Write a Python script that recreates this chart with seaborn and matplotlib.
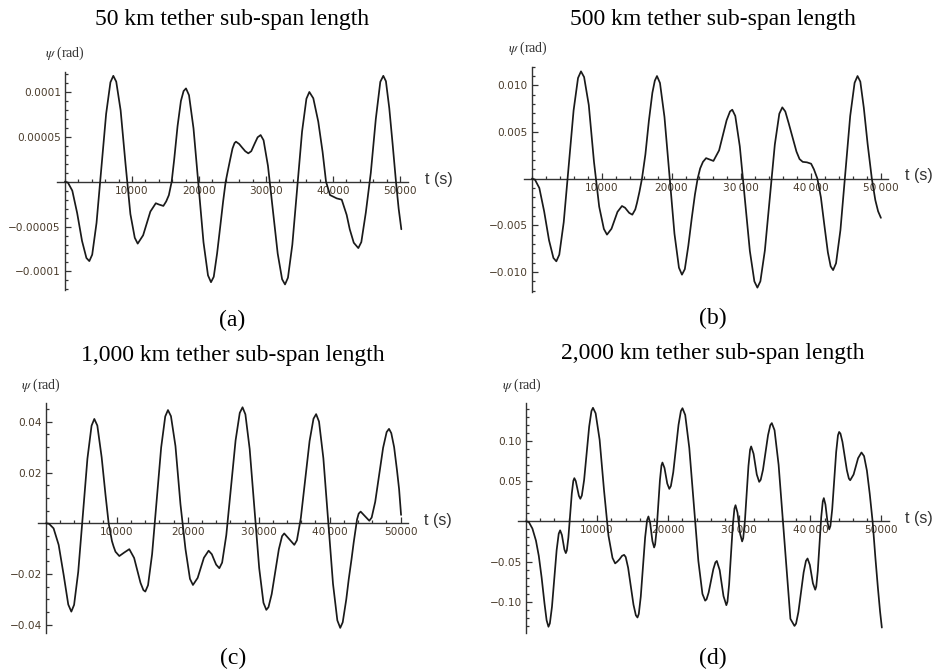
import matplotlib
matplotlib.use("Agg")
import matplotlib.pyplot as plt
import numpy as np
import pandas as pd
import seaborn as sns
from matplotlib.ticker import MultipleLocator, FixedLocator, FixedFormatter

# ---------------- data ----------------
# panel (a): 50 km, psi in units of 1e-4 rad
t_a = [0, 436, 1089, 1815, 2541, 3194, 3630, 4060, 4704, 5420, 6136, 6780, 7210, 7647, 8302, 9030,
       9758, 10413, 10850, 11660, 12200, 12740, 13550, 14050, 14680, 15100, 15500, 15920, 16300, 16800,
       17300, 17700, 18060, 18508, 19179, 19925, 20671, 21342, 21790, 22200, 22700, 23200, 23600, 23980,
       24300, 24630, 25000, 25300, 25520, 26000, 26440, 26900, 27360, 27800, 28280, 28750, 29200, 29637,
       30292, 31020, 31748, 32403, 32840, 33276, 33929, 34655, 35381, 36034, 36470, 37060, 37800, 38450,
       38960, 39560, 40560, 41300, 42040, 42500, 43100, 43780, 44228, 44899, 45645, 46391, 47062, 47510,
       47900, 48400, 48900, 49400, 49800, 50200]
psi_a = [0, -0.01, -0.10, -0.35, -0.66, -0.85, -0.885, -0.813, -0.46, 0.148, 0.755, 1.108, 1.18, 1.115,
         0.795, 0.20, -0.36, -0.625, -0.69, -0.597, -0.465, -0.333, -0.24, -0.255, -0.27, -0.22, -0.15,
         0.0, 0.25, 0.62, 0.90, 1.01, 1.04, 0.964, 0.595, -0.04, -0.675, -1.044, -1.12, -1.06, -0.80,
         -0.48, -0.22, 0.0, 0.12, 0.24, 0.37, 0.43, 0.446, 0.42, 0.38, 0.34, 0.316, 0.34, 0.42, 0.495,
         0.52, 0.462, 0.177, -0.313, -0.802, -1.087, -1.145, -1.070, -0.703, -0.073, 0.558, 0.925, 1.0,
         0.93, 0.67, 0.33, 0.0, -0.149, -0.186, -0.20, -0.37, -0.53, -0.68, -0.74, -0.673, -0.344, 0.10,
         0.70, 1.113, 1.18, 1.12, 0.82, 0.42, 0.0, -0.30, -0.53]
unit_a = 1e-4

# panel (b): 500 km, psi in units of 1e-3 rad
t_b = [0, 420, 1050, 1740, 2440, 3070, 3487, 3911, 4547, 5254, 5960, 6596, 7020, 7467, 8138, 8883, 9628,
       10299, 10746, 11391, 11820, 12250, 12895, 13339, 13636, 13932, 14376, 14800, 15045, 15400, 15760,
       16250, 16750, 17250, 17600, 17910, 18340, 18984, 19700, 20416, 21060, 21490, 21900, 22400, 22900,
       23350, 23736, 24100, 24500, 24950, 25470, 26000, 26810, 27350, 27890, 28376, 28700, 29132, 29780,
       30500, 31220, 31868, 32300, 32728, 33371, 34085, 34799, 35442, 35870, 36300, 36800, 37390, 37900,
       38340, 38800, 39400, 40000, 40400, 40900, 41400, 41900, 42400, 42800, 43150, 43570, 44200, 44900,
       45600, 46230, 46650, 47050, 47550, 48100, 48700, 49200, 49600, 50000]
psi_b = [0, -0.1, -1.0, -3.5, -6.6, -8.5, -8.86, -8.147, -4.666, 1.32, 7.306, 10.787, 11.5, 10.888, 7.895,
         1.8, -3.0, -5.388, -6.0, -5.368, -4.465, -3.56, -2.93, -3.12, -3.4, -3.67, -3.86, -3.3, -2.6,
         -1.4, 0.0, 2.6, 6.2, 9.2, 10.5, 11.0, 10.255, 6.614, 0.355, -5.904, -9.545, -10.29, -9.7, -7.2,
         -4.2, -1.7, 0.0, 1.1, 1.8, 2.2, 2.05, 1.9, 3.03, 4.645, 6.26, 7.2, 7.39, 6.72, 3.46, -2.145,
         -7.75, -11.01, -11.68, -11.0, -7.70, -2.02, 3.66, 6.96, 7.64, 7.2, 5.9, 4.29, 2.9, 2.1, 1.8,
         1.75, 1.6, 1.0, 0.0, -2.0, -5.0, -7.9, -9.4, -9.8, -9.07, -5.515, 0.6, 6.715, 10.27, 11.0,
         10.4, 7.6, 3.7, 0.0, -2.3, -3.5, -4.2]
unit_b = 1e-3

# panel (c): 1,000 km, psi in units of 1e-2 rad
t_c = [0, 430, 1070, 1786, 2500, 3140, 3572, 3961, 4545, 5194, 5842, 6426, 6815, 7240, 7850, 8400, 8836,
       9300, 9541, 9800, 10340, 11045, 11750, 12427, 12878, 13329, 13735, 14006, 14390, 14965, 15604,
       16243, 16818, 17202, 17625, 18260, 18965, 19670, 20305, 20727, 21390, 21830, 22273, 22936, 23390,
       23690, 24000, 24450, 24842, 25431, 26085, 26739, 27328, 27720, 28123, 28727, 29398, 30069, 30672,
       31075, 31378, 31833, 32338, 32843, 33297, 33600, 34310, 35020, 35390, 35944, 36560, 37176, 37730,
       38100, 38508, 39120, 39800, 40480, 41092, 41500, 41850, 42350, 42700, 43100, 43400, 43870, 44100,
       44380, 44990, 45600, 45934, 46434, 46990, 47546, 48046, 48380, 48700, 49100, 49500, 49800, 50080]
psi_c = [0, -0.02, -0.2, -0.85, -2.05, -3.2, -3.48, -3.214, -1.916, 0.315, 2.546, 3.844, 4.11, 3.85, 2.6,
         1.1, 0.0, -0.7, -0.92, -1.12, -1.29, -1.15, -1.02, -1.364, -1.855, -2.346, -2.63, -2.69, -2.44,
         -1.217, 0.885, 2.987, 4.21, 4.46, 4.219, 3.041, 0.75, -1.011, -2.189, -2.43, -2.152, -1.755,
         -1.358, -1.08, -1.22, -1.425, -1.63, -1.77, -1.548, -0.464, 1.4, 3.264, 4.348, 4.57, 4.291,
         2.926, 0.58, -1.766, -3.131, -3.41, -3.305, -2.79, -1.905, -1.02, -0.505, -0.40, -0.625, -0.85,
         -0.67, 0.211, 1.725, 3.239, 4.12, 4.3, 4.005, 2.565, 0.09, -2.385, -3.825, -4.12, -3.9, -3.0,
         -2.2, -1.4, -0.75, 0.15, 0.38, 0.46, 0.28, 0.1, 0.227, 0.846, 1.91, 2.974, 3.593, 3.72, 3.55,
         3.0, 2.1, 1.35, 0.33]
unit_c = 1e-2

# panel (d): 2,000 km, psi in units of 1e-2 rad
t_d = [0, 400, 900, 1400, 1800, 2200, 2600, 2900, 3160, 3357, 3652, 3980, 4308, 4603, 4800, 5050, 5200,
       5400, 5600, 5744, 5960, 6200, 6440, 6656, 6800, 7000, 7220, 7440, 7640, 7854, 8174, 8530, 8886,
       9206, 9420, 9794, 10356, 10980, 11604, 12166, 12540, 12850, 13170, 13500, 13800, 14026, 14364,
       14740, 15116, 15454, 15680, 15865, 16142, 16450, 16758, 17035, 17220, 17460, 17620, 17780, 18020,
       18160, 18371, 18605, 18839, 19050, 19190, 19480, 19672, 19866, 20155, 20378, 20712, 21083, 21454,
       21787, 22010, 22393, 22967, 23605, 24243, 24817, 25200, 25397, 25692, 26020, 26348, 26643, 26840,
       27242, 27510, 27778, 28180, 28335, 28567, 28825, 29083, 29315, 29470, 29749, 29935, 30121, 30400,
       30552, 30781, 31035, 31289, 31518, 31670, 32009, 32235, 32461, 32800, 33013, 33333, 33688, 34043,
       34362, 34575, 34958, 35532, 36170, 36808, 37191, 37765, 37985, 38316, 38683, 39050, 39380, 39600,
       39924, 40140, 40356, 40680, 40825, 41043, 41285, 41527, 41745, 41890, 42118, 42270, 42422, 42650,
       42817, 43069, 43348, 43627, 43878, 44045, 44232, 44512, 44823, 45134, 45414, 45600, 46076, 46393,
       46710, 47185, 47550, 47950, 48350, 48750, 49150, 49500, 49800, 50050]
psi_d = [0, -0.1, -0.9, -2.4, -4.3, -7.0, -10.2, -12.3, -13.1, -12.68, -10.63, -7.11, -3.59, -1.54, -1.12,
         -1.7, -2.5, -3.5, -3.95, -3.62, -2.03, 0.705, 3.44, 5.03, 5.36, 5.0, 4.08, 3.16, 2.8, 3.2, 5.13,
         8.45, 11.77, 13.7, 14.1, 13.42, 10.12, 3.8, -1.8, -4.55, -5.23, -5.0, -4.7, -4.3, -4.17, -4.44,
         -5.77, -8.06, -10.35, -11.68, -11.95, -11.51, -9.365, -5.675, -1.985, 0.16, 0.6, -0.19, -1.325,
         -2.46, -3.25, -2.88, -1.08, 2.025, 5.13, 6.93, 7.3, 6.63, 5.665, 4.70, 4.03, 4.38, 6.09, 9.04,
         11.99, 13.7, 14.05, 13.21, 9.125, 2.095, -4.93, -9.02, -9.86, -9.69, -8.84, -7.395, -5.95, -5.1,
         -4.93, -6.06, -7.675, -9.29, -10.42, -10.0, -7.86, -4.21, -0.56, 1.57, 2.0, 1.07, -0.25, -1.57,
         -2.5, -2.09, -0.07, 3.4, 6.87, 8.89, 9.3, 8.39, 7.1, 5.81, 4.9, 5.16, 6.40, 8.55, 10.70, 11.94,
         12.2, 11.32, 7.01, -0.4, -7.81, -12.12, -13.0, -12.71, -11.27, -8.81, -6.35, -4.91, -4.62,
         -5.42, -6.56, -7.70, -8.5, -8.1, -6.16, -2.81, 0.54, 2.48, 2.88, 2.08, 0.94, -0.2, -1.0, -0.58,
         1.49, 5.05, 8.61, 10.68, 11.1, 10.89, 9.86, 8.1, 6.34, 5.31, 5.1, 5.81, 6.83, 7.84, 8.55, 8.1,
         6.3, 3.4, 0.0, -4.6, -8.3, -11.2, -13.2]
unit_d = 1e-2

titles = ["50 km tether sub-span length", "500 km tether sub-span length",
          "1,000 km tether sub-span length", "2,000 km tether sub-span length"]
captions = ["(a)", "(b)", "(c)", "(d)"]

xtick_vals = [10000, 20000, 30000, 40000, 50000]
xtick_labels = [
    ["10000", "20000", "30000", "40000", "50000"],
    ["10000", "20000", "30\u2009000", "40\u2009000", "50\u2009000"],
    ["10000", "20000", "30\u2009000", "40\u2009000", "50000"],
    ["10000", "20000", "30\u2009000", "40\u2009000", "50000"],
]
ytick_vals = [
    [-1e-4, -5e-5, 5e-5, 1e-4],
    [-0.010, -0.005, 0.005, 0.010],
    [-0.04, -0.02, 0.02, 0.04],
    [-0.10, -0.05, 0.05, 0.10],
]
ytick_labels = [
    ["\u22120.0001", "\u22120.00005", "0.00005", "0.0001"],
    ["\u22120.010", "\u22120.005", "0.005", "0.010"],
    ["\u22120.04", "\u22120.02", "0.02", "0.04"],
    ["\u22120.10", "\u22120.05", "0.05", "0.10"],
]
ytick_minor = [1e-5, 1e-3, 5e-3, 1e-2]

# ---------------- style ----------------
sns.set_style("white")
plt.rcParams["font.family"] = ["Liberation Serif", "DejaVu Serif"]
plt.rcParams["mathtext.fontset"] = "stix"

W, H = 933, 671
fig = plt.figure(figsize=(W / 100, H / 100), dpi=100)
fig.patch.set_facecolor("white")

# pixel layout: (left, top, right, bottom), xlim, ylim
layout = [
    ((56.7, 71.7, 408.3, 290.0), (-1240, 51240), (-1.207e-4, 1.226e-4)),
    ((524.0, 66.7, 888.3, 292.3), (-1146, 51060), (-12.18e-3, 12.0e-3)),
    ((38.3, 402.7, 408.3, 632.7), (-1086, 51100), (-4.31e-2, 4.75e-2)),
    ((518.3, 403.3, 889.3, 632.7), (-1083, 51100), (-0.1384, 0.1466)),
]
title_pos = [(232, 19), (712.5, 19), (233.3, 355), (712.5, 353.3)]
cap_pos = [(232, 320), (713, 318.3), (233, 658.3), (712.7, 658.3)]
psi_pos = [(45, 53), (508, 48), (21, 385), (502, 385)]
tlab_pos = [(425, 180), (905, 175.7), (424, 520.7), (905, 518.3)]

series = [(t_a, psi_a, unit_a), (t_b, psi_b, unit_b), (t_c, psi_c, unit_c), (t_d, psi_d, unit_d)]

axis_col = "#333333"
tick_col = "#4a3c2c"

for i in range(4):
    (l, tp, r, b), xl, yl = layout[i]
    ax = fig.add_axes([l / W, 1 - b / H, (r - l) / W, (b - tp) / H])
    ax.set_facecolor("none")
    t, p, u = series[i]
    df = pd.DataFrame({"t": t, "psi": np.asarray(p) * u})
    sns.lineplot(data=df, x="t", y="psi", ax=ax, color="#1a1a1a", linewidth=1.25,
                 estimator=None, sort=False, zorder=3)
    ax.set_xlim(*xl)
    ax.set_ylim(*yl)
    ax.set_xlabel("")
    ax.set_ylabel("")
    for s in ["top", "right"]:
        ax.spines[s].set_visible(False)
    ax.spines["left"].set_position(("data", 0))
    ax.spines["bottom"].set_position(("data", 0))
    for s in ["left", "bottom"]:
        ax.spines[s].set_color(axis_col)
        ax.spines[s].set_linewidth(1.0)
    ax.xaxis.set_major_locator(FixedLocator(xtick_vals))
    ax.xaxis.set_major_formatter(FixedFormatter(xtick_labels[i]))
    ax.xaxis.set_minor_locator(MultipleLocator(2000))
    ax.yaxis.set_major_locator(FixedLocator(ytick_vals[i]))
    ax.yaxis.set_major_formatter(FixedFormatter(ytick_labels[i]))
    ax.yaxis.set_minor_locator(MultipleLocator(ytick_minor[i]))
    ax.tick_params(which="both", direction="in", color=axis_col, width=0.9,
                   bottom=True, left=True, top=False, right=False)
    ax.tick_params(which="major", length=4.0, pad=3)
    ax.tick_params(which="minor", length=2.2)
    ax.tick_params(axis="both", which="major", labelsize=7.6, labelcolor=tick_col)
    for lab in ax.get_xticklabels() + ax.get_yticklabels():
        lab.set_fontfamily("DejaVu Sans")
    ax.grid(False)

    tx, ty = title_pos[i]
    fig.text(tx / W, 1 - ty / H, titles[i], ha="center", va="center", fontsize=17,
             family=["Liberation Serif", "DejaVu Serif"], color="black")
    cx, cy = cap_pos[i]
    fig.text(cx / W, 1 - cy / H, captions[i], ha="center", va="center", fontsize=17,
             family=["Liberation Serif", "DejaVu Serif"], color="black")
    px, py = psi_pos[i]
    fig.text(px / W, 1 - py / H, r"$\psi$ (rad)", ha="left", va="center", fontsize=10,
             family=["Liberation Serif", "DejaVu Serif"], color="#333333")
    lx, ly = tlab_pos[i]
    fig.text(lx / W, 1 - ly / H, "t (s)", ha="left", va="center", fontsize=11.5,
             family=["Liberation Sans", "DejaVu Sans"], color="#333333")

fig.savefig("out.png", dpi=100, facecolor="white")
